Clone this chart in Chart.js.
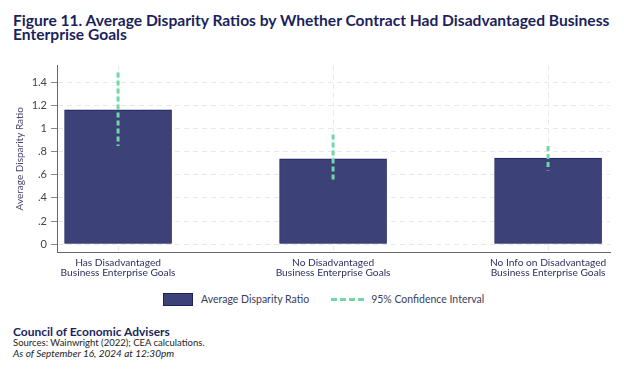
<!DOCTYPE html>
<html>
<head>
<meta charset="utf-8">
<script src="https://cdn.jsdelivr.net/npm/chart.js@4.4.1/dist/chart.umd.min.js"></script>
<style>
  html, body { margin: 0; padding: 0; background: #fff; }
  body { width: 624px; height: 374px; position: relative; overflow: hidden; font-family: Lato, "Open Sans", sans-serif; }
  #title { position: absolute; left: 13px; top: 13px; width: 605px; font-size: 15.6px; font-weight: 700; line-height: 14px; color: #1c1f5c; }
  #wrap { position: absolute; left: 0; top: 55px; width: 624px; height: 230px; }
  #legend { position: absolute; left: 163px; top: 292px; height: 15px; font-size: 10.5px; color: #3a3d5c; white-space: nowrap; }
  #legend span { display: inline-block; vertical-align: middle; }
  .box { width: 28px; height: 11px; background: #3c4178; border: 1px solid #1e2163; margin-right: 8px; }
  .dash { width: 33px; height: 0; border-top: 3px dashed #6fd9a3; margin-left: 22px; margin-right: 7px; }
  #footer { position: absolute; left: 13px; top: 325px; color: #1c1f5c; }
  #footer .org { font-size: 12px; font-weight: 700; line-height: 13px; }
  #footer .src { font-size: 9.5px; line-height: 10px; color: #222; }
  #footer .date { font-size: 10px; line-height: 11px; font-style: italic; color: #222; }
</style>
</head>
<body>
<div id="title">Figure 11. Average Disparity Ratios by Whether Contract Had Disadvantaged Business Enterprise Goals</div>
<div id="wrap"><canvas id="chart"></canvas></div>
<div id="legend"><span class="box"></span><span>Average Disparity Ratio</span><span class="dash"></span><span>95% Confidence Interval</span></div>
<div id="footer">
  <div class="org">Council of Economic Advisers</div>
  <div class="src">Sources: Wainwright (2022); CEA calculations.</div>
  <div class="date">As of September 16, 2024 at 12:30pm</div>
</div>
<script>
// chart data
const categories = [
    ['Has Disadvantaged', 'Business Enterprise Goals'],
    ['No Disadvantaged', 'Business Enterprise Goals'],
    ['No Info on Disadvantaged', 'Business Enterprise Goals']
];
const meanRatio = [1.163, 0.738, 0.744];
const ciLow = [0.85, 0.536, 0.638];
const ciHigh = [1.485, 0.949, 0.85];
const yTicks = [0, 0.2, 0.4, 0.6, 0.8, 1, 1.2, 1.4];

const barColor = '#3c4178';
const ciColor = '#6fd9a3';

// bars sit on a linear x scale at positions 1..n
const barPoints = meanRatio.map((v, i) => ({ x: i + 1, y: v }));
const ciPoints = [];
ciHigh.forEach((hi, i) => {
    ciPoints.push({ x: i + 1, y: hi });
    ciPoints.push({ x: i + 1, y: ciLow[i] });
    ciPoints.push({ x: i + 1, y: null });
});

const fmtTick = (v) => {
    if (v === 0) return '0';
    return String(Math.round(v * 10) / 10).replace(/^0\./, '.');
};

const ctx = document.getElementById('chart');
window.chart = new Chart(ctx, {
    data: {
        datasets: [
            {
                type: 'line',
                label: '95% Confidence Interval',
                data: ciPoints,
                borderColor: ciColor,
                borderWidth: 3,
                borderDash: [5, 3],
                borderCapStyle: 'butt',
                pointRadius: 0,
                spanGaps: false,
                order: 0
            },
            {
                type: 'bar',
                label: 'Average Disparity Ratio',
                data: barPoints,
                backgroundColor: barColor,
                borderColor: '#1e2163',
                borderWidth: 1,
                barThickness: 107,
                order: 1
            }
        ]
    },
    options: {
        responsive: true,
        maintainAspectRatio: false,
        animation: false,
        layout: { padding: { top: 8, right: 14, left: 0, bottom: 0 } },
        plugins: {
            legend: { display: false },
            tooltip: { enabled: false }
        },
        scales: {
            x: {
                type: 'linear',
                offset: false,
                min: 0.716,
                max: 3.288,
                afterBuildTicks: (s) => { s.ticks = categories.map((c, i) => ({ value: i + 1 })); },
                afterFit: (s) => { s.height = 33; },
                grid: { color: '#e8e8e8', drawTicks: false, offset: false },
                border: { color: '#666', width: 1, dash: [5, 4] },
                ticks: {
                    autoSkip: false,
                    maxRotation: 0,
                    padding: 6,
                    color: '#2e3160',
                    font: { family: 'Lato', size: 10.2, lineHeight: '10px' },
                    callback: (v) => categories[v - 1]
                }
            },
            y: {
                min: -0.068,
                max: 1.545,
                afterBuildTicks: (s) => { s.ticks = yTicks.map(v => ({ value: v })); },
                afterFit: (s) => { s.width = 57; },
                grid: { color: '#e8e8e8', tickLength: 6, tickColor: '#888', tickBorderDash: [] },
                border: { color: '#666', width: 1, dash: [5, 4] },
                title: {
                    display: true,
                    text: 'Average Disparity Ratio',
                    color: '#4a4470',
                    font: { family: 'Lato', size: 10 },
                    padding: { top: 14, bottom: 0 }
                },
                ticks: {
                    padding: 4,
                    color: '#444',
                    font: { family: 'Lato', size: 11 },
                    callback: fmtTick
                }
            }
        }
    }
});
</script>
</body>
</html>
